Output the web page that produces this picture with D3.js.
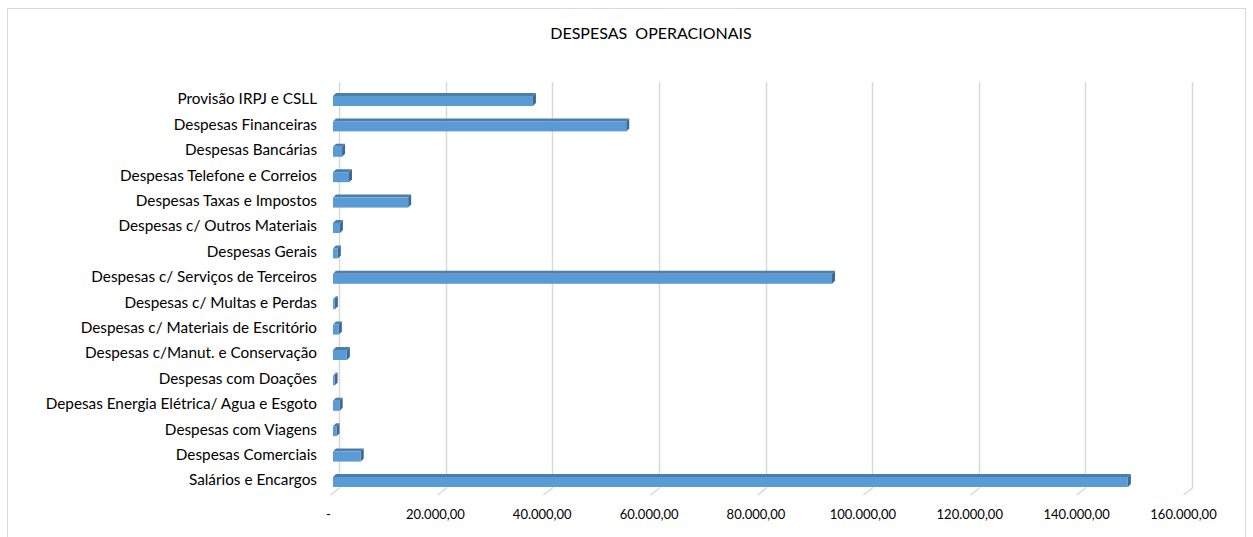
<!DOCTYPE html>
<html>
<head>
<meta charset="utf-8">
<script src="https://cdn.jsdelivr.net/npm/d3@7"></script>
<style>
  html, body { margin: 0; padding: 0; background: #fff; }
  svg { display: block; }
  text { font-family: "Lato", "Open Sans", sans-serif; fill: #000; }
</style>
</head>
<body>
<svg id="chart" width="1253" height="537"></svg>
<script>
const title = "DESPESAS  OPERACIONAIS";
const categories = [
  "Provisão IRPJ e CSLL",
  "Despesas Financeiras",
  "Despesas Bancárias",
  "Despesas Telefone e Correios",
  "Despesas Taxas e Impostos ",
  "Despesas c/ Outros Materiais",
  "Despesas Gerais",
  "Despesas c/ Serviços de Terceiros",
  "Despesas c/ Multas e Perdas",
  "Despesas c/ Materiais de Escritório",
  "Despesas c/Manut. e Conservação",
  "Despesas com Doações",
  "Depesas Energia Elétrica/ Agua e Esgoto",
  "Despesas com Viagens",
  "Despesas Comerciais",
  "Salários e Encargos"
];
const values = [
  37500, 55000, 1700, 3000, 14100, 1300, 900, 93600,
  350, 1100, 2600, 300, 1250, 650, 5200, 149100
];
const tickValues = [0, 20000, 40000, 60000, 80000, 100000, 120000, 140000, 160000];
const tickLabels = ["-", "20.000,00", "40.000,00", "60.000,00", "80.000,00",
  "100.000,00", "120.000,00", "140.000,00", "160.000,00"];

const svg = d3.select("#chart");

// chart border
svg.append("rect")
  .attr("x", 7.5).attr("y", 8.5)
  .attr("width", 1238).attr("height", 540)
  .attr("fill", "#fff").attr("stroke", "#d9d9d9").attr("stroke-width", 1);

// title
svg.append("text")
  .attr("x", 651).attr("y", 39)
  .attr("text-anchor", "middle")
  .attr("font-size", 16)
  .style("white-space", "pre")
  .text(title);

const x = d3.scaleLinear().domain([0, 160000]).range([333, 1186]);
const y = d3.scalePoint().domain(categories).range([100, 481]);

// 3D offsets
const backDx = 6, floorDx = -3, floorDy = 7;
const gridTop = 82, gridBottom = 488;

// gridlines (back wall) + floor diagonals
const grid = svg.append("g");
tickValues.forEach(t => {
  const gx = Math.round(x(t) + backDx) + 0.5;
  grid.append("line")
    .attr("x1", gx).attr("x2", gx)
    .attr("y1", gridTop).attr("y2", gridBottom)
    .attr("stroke", "#d9d9d9").attr("stroke-width", 1.5);
  grid.append("line")
    .attr("x1", gx).attr("y1", gridBottom)
    .attr("x2", gx + floorDx - backDx).attr("y2", gridBottom + floorDy)
    .attr("stroke", "#d9d9d9").attr("stroke-width", 1.5);
});

// x-axis labels via d3 axis
const xFront = d3.scaleLinear().domain([0, 160000]).range([328, 1183]);
const xAxis = d3.axisBottom(xFront)
  .tickValues(tickValues)
  .tickFormat((d, i) => tickLabels[i])
  .tickSize(0).tickPadding(0);
const xg = svg.append("g").attr("transform", "translate(0,510)").call(xAxis);
xg.select(".domain").remove();
xg.selectAll("text").attr("font-size", 13).style("font-family", "Lato, 'Open Sans', sans-serif").attr("fill", "#000");

// y-axis labels
const yAxis = d3.axisLeft(y).tickSize(0).tickPadding(0);
const yg = svg.append("g").attr("transform", "translate(317,-1)").call(yAxis);
yg.select(".domain").remove();
yg.selectAll("text").attr("font-size", 15.3).style("font-family", "Lato, 'Open Sans', sans-serif").attr("fill", "#000");

// bars
const barH = 10, depth = 3;
const colFront = "#5b9bd5", colTop = "#4a7ead", colSide = "#3c6a96";
const bars = svg.append("g");
categories.forEach((c, i) => {
  const x0 = x(0), x1 = x(values[i]);
  const yc = y(c);
  const y0 = yc - barH / 2 + 1, y1 = y0 + barH;
  bars.append("polygon")
    .attr("points", [[x0, y0], [x0 + depth, y0 - depth], [x1 + depth, y0 - depth], [x1, y0]].join(" "))
    .attr("fill", colTop);
  bars.append("polygon")
    .attr("points", [[x1, y0], [x1 + depth, y0 - depth], [x1 + depth, y1 - depth], [x1, y1]].join(" "))
    .attr("fill", colSide);
  bars.append("rect")
    .attr("x", x0).attr("y", y0)
    .attr("width", Math.max(0.5, x1 - x0)).attr("height", barH)
    .attr("fill", colFront);
});
</script>
</body>
</html>
